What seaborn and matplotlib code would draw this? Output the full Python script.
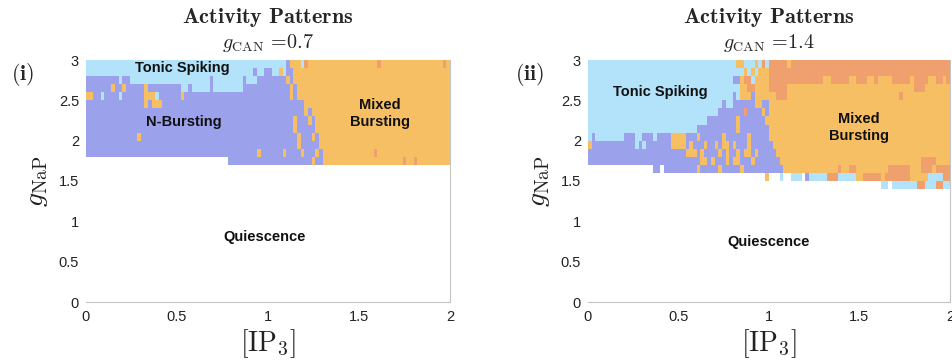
import numpy as np
import matplotlib
matplotlib.use("Agg")
import matplotlib.pyplot as plt
import seaborn as sns
from matplotlib.colors import ListedColormap

# grid of the parameter sweep
n_ip3 = 100    # cells over [IP3] = 0..2
n_gnap = 30    # cells over gNaP = 0..3
ip3_ticks = [0, 0.5, 1, 1.5, 2]
gnap_ticks = [0, 0.5, 1, 1.5, 2, 2.5, 3]

activity_codes = {"Q": 0, "T": 1, "N": 2, "M": 3, "S": 4}
activity_colors = ["#ffffff", "#b2e3fb", "#9ca1ec", "#f6bf63", "#f09f6e"]

# rows from gNaP = 3 downwards, run-length coded (activity, number of IP3 cells)
# rows that are not listed are quiescent
rows_can07 = [
    "T55 N1 M3 T1 S1 M19 S1 M17 S1 M1",
    "T46 N1 T2 N2 T2 M1 T1 N2 M43",
    "N9 T1 N2 T22 N1 T8 N1 T3 N8 M1 N1 M43",
    "N7 M1 N2 M1 N5 M1 N9 T2 N1 T5 N1 T8 N13 M1 N1 M42",
    "M2 N2 T1 N4 T1 N6 M3 T1 N6 M1 N29 M1 N1 M42",
    "N16 M1 N1 M3 N39 M40",
    "N60 M1 N1 M38",
    "N57 M1 N3 M1 N1 M37",
    "N57 M1 N5 M37",
    "N14 M1 N43 M1 N3 M1 N1 M36",
    "N58 M1 N5 M36",
    "N47 M1 N6 M1 N4 M1 N3 M1 N1 M14 S1 M20",
    "Q39 N23 M1 N2 M22 S1 M2 S1 M9",
]

rows_can14 = [
    "T41 M2 T3 M1 T1 S1 T1 S5 M1 S44",
    "T43 M1 T1 M1 T1 M3 S50",
    "T40 N2 M1 S2 T1 M4 S15 M2 S5 M2 S3 M2 S1 M4 S5 M1 S4 M2 S2 M1 S1",
    "T42 M2 S2 M4 S5 M35 S3 M7",
    "T40 N1 T1 M3 N1 M6 S3 M31 S1 M13",
    "T37 N1 T2 N6 M2 N2 M50",
    "T36 N7 S1 N4 M1 N1 M50",
    "T33 N8 M1 N7 M51",
    "T30 N11 M1 N8 M50",
    "T1 N1 T8 N3 T2 N3 T1 N4 M4 N3 M1 N6 M1 N6 M1 N5 M50",
    "M1 N12 T1 N1 T1 N7 M4 N1 M1 N3 M1 N2 M1 N1 M2 N1 M1 N3 M1 N6 M49",
    "N27 M3 N1 M1 N4 M1 N1 M1 N2 M1 N1 M2 N1 M1 N5 M48",
    "N31 M2 N1 M1 N3 M1 N1 M2 N3 M1 N7 M39 S4 M4",
    "Q18 N2 Q1 N9 M1 N5 M1 N5 M1 N11 M15 S1 M2 S2 M9 S6 M3 S3 M1 S4",
    "Q49 M1 Q3 T1 Q2 T3 Q1 N1 T5 S3 T5 M2 S5 M1 S7 M5 T4 S2",
    "Q81 T2 Q1 T7 S2 T3 S2 T2",
]

panels = [
    {"rows": rows_can07, "gcan": "0.7", "tag": r"$\mathbf{(i)}$", "tag_x": 23,
     "labels": [("Tonic Spiking", 26.5, 1.0), ("N-Bursting", 26.8, 7.7),
                ("Mixed\nBursting", 80.8, 6.6), ("Quiescence", 49.0, 21.9)]},
    {"rows": rows_can14, "gcan": "1.4", "tag": r"$\mathbf{(ii)}$", "tag_x": 530,
     "labels": [("Tonic Spiking", 20.0, 4.0), ("Mixed\nBursting", 74.9, 8.4),
                ("Quiescence", 49.9, 22.6)]},
]


def decode(rows):
    grid = np.zeros((n_gnap, n_ip3), dtype=int)
    for i, row in enumerate(rows):
        cells = []
        for run in row.split():
            cells += [activity_codes[run[0]]] * int(run[1:])
        assert len(cells) == n_ip3, (i, len(cells))
        grid[i] = cells
    return grid


sns.set_style("white")
plt.rcParams["mathtext.fontset"] = "cm"
plt.rcParams["font.family"] = ["Liberation Sans", "DejaVu Sans"]

fig = plt.figure(figsize=(9.53, 3.61), dpi=100)
W, H = 953, 361
axes_px = [(86, 364), (588, 362)]
cmap = ListedColormap(activity_colors)
gray = "#c4c4c4"

for (left, width), panel in zip(axes_px, panels):
    ax = fig.add_axes([left / W, 1 - 302 / H, width / W, 242 / H])
    grid = decode(panel["rows"])
    sns.heatmap(grid, ax=ax, cmap=cmap, vmin=-0.5, vmax=4.5, cbar=False,
                xticklabels=False, yticklabels=False)

    ax.set_xticks([v * n_ip3 / 2 for v in ip3_ticks])
    ax.set_xticklabels([f"{v:g}" for v in ip3_ticks])
    ax.set_yticks([(3 - v) * n_gnap / 3 for v in gnap_ticks])
    ax.set_yticklabels([f"{v:g}" for v in gnap_ticks], rotation=0)
    ax.tick_params(axis="both", length=0, labelsize=10.5, colors="#222222")
    ax.tick_params(axis="x", pad=6)
    ax.tick_params(axis="y", pad=5)

    for side in ["top", "left"]:
        ax.spines[side].set_visible(False)
    for side in ["bottom", "right"]:
        ax.spines[side].set_visible(True)
        ax.spines[side].set_color(gray)
        ax.spines[side].set_linewidth(0.8)

    for text, x, y in panel["labels"]:
        ax.text(x, y, text, ha="center", va="center", fontsize=10.5,
                fontweight="bold", color="#111111", linespacing=1.3)

    ax.text(0.5, 1.153, r"$\mathbf{Activity\ Patterns}$", transform=ax.transAxes,
            ha="center", va="baseline", fontsize=16)
    ax.text(0.5, 1.05, r"$g_{\mathrm{CAN}}$ =" + panel["gcan"], transform=ax.transAxes,
            ha="center", va="baseline", fontsize=14.5, family="cmr10")
    fig.text(panel["tag_x"] / W, 1 - 74 / H, panel["tag"], ha="center", va="center",
             fontsize=16)

    ax.set_xlabel(r"$[\mathrm{IP}_3]$", fontsize=20, labelpad=2, color="#222222")
    ax.set_ylabel(r"$g_{\mathrm{NaP}}$", fontsize=20, labelpad=6, color="#222222")

fig.savefig("out.png", dpi=100)
